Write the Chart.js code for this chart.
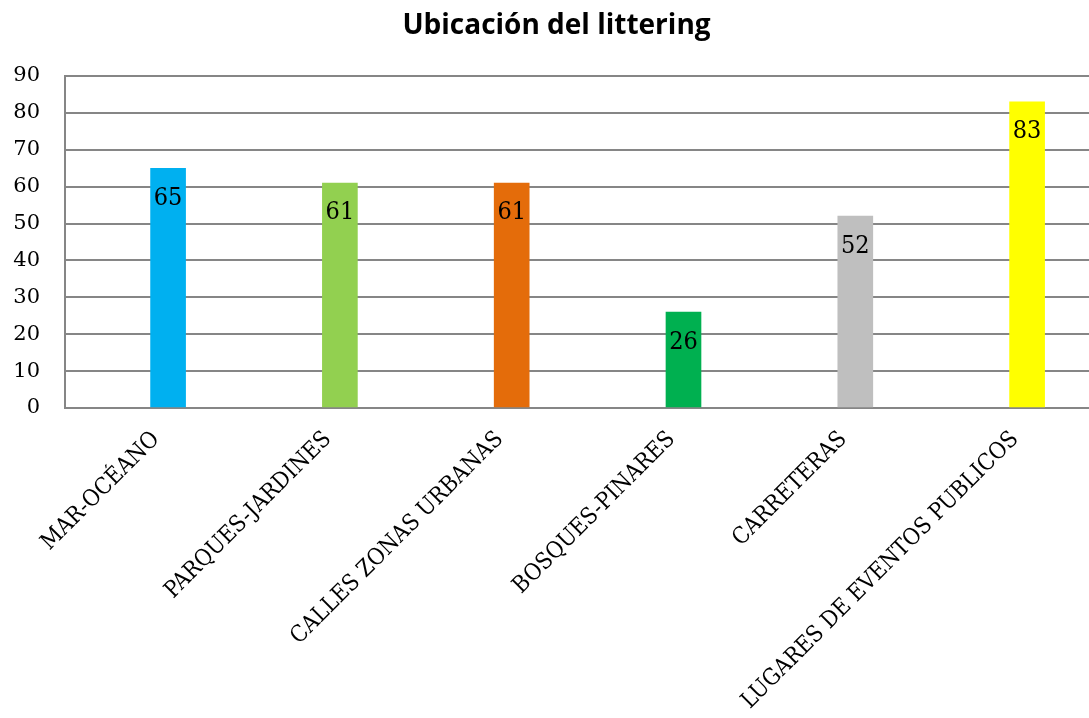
<!DOCTYPE html>
<html>
<head>
<meta charset="utf-8">
<script src="https://cdn.jsdelivr.net/npm/chart.js@4.4.1/dist/chart.umd.min.js"></script>
<style>
  html, body { margin: 0; padding: 0; background: #fff; overflow: hidden; }
  #wrap { width: 1089px; height: 718px; overflow: hidden; }
</style>
</head>
<body>
<div id="wrap"><canvas id="chart" width="1120" height="718"></canvas></div>
<script>
// chart data
const categories = ['MAR-OCÉANO', 'PARQUES-JARDINES', 'CALLES ZONAS URBANAS', 'BOSQUES-PINARES', 'CARRETERAS', 'LUGARES DE EVENTOS PUBLICOS'];
const values = [65, 61, 61, 26, 52, 83];
const barColors = ['#00B0F0', '#92D050', '#E46C0A', '#00B050', '#BFBFBF', '#FFFF00'];
const yTicks = [0, 10, 20, 30, 40, 50, 60, 70, 80, 90];

const gridGray = '#868686';

// value labels just inside the top of each bar
const valueLabels = {
    id: 'valueLabels',
    afterDatasetsDraw(chart) {
        const ctx = chart.ctx;
        const meta = chart.getDatasetMeta(0);
        ctx.save();
        ctx.font = '25px "DejaVu Serif Condensed"';
        ctx.fillStyle = '#000';
        ctx.textAlign = 'center';
        ctx.textBaseline = 'middle';
        meta.data.forEach((bar, i) => {
            ctx.fillText(String(values[i]), bar.x, bar.y + 30);
        });
        ctx.restore();
    }
};

new Chart(document.getElementById('chart'), {
    type: 'bar',
    data: {
        datasets: [{
            data: values.map((v, i) => ({ x: i, y: v })),
            backgroundColor: barColors,
            barThickness: 35,
            borderWidth: 0
        }]
    },
    options: {
        responsive: false,
        animation: false,
        layout: { padding: { left: 0, right: 7, top: 0, bottom: 0 } },
        plugins: {
            legend: { display: false },
            tooltip: { enabled: false },
            title: {
                display: true,
                text: 'Ubicación del littering',
                color: '#000',
                font: { family: '"Open Sans"', size: 28, weight: 'bold' },
                padding: { top: 9, bottom: 33.4 }
            }
        },
        scales: {
            x: {
                type: 'linear',
                offset: false,
                min: -0.6,
                max: 5.5,
                grid: { display: false },
                border: { display: true, color: gridGray, width: 2 },
                afterBuildTicks: scale => {
                    scale.ticks = categories.map((c, i) => ({ value: i }));
                },
                afterFit: scale => { scale.height = 310; },
                ticks: {
                    autoSkip: false,
                    minRotation: 45,
                    maxRotation: 45,
                    padding: 10,
                    labelOffset: -12,
                    color: '#000',
                    font: { family: '"DejaVu Serif Condensed"', size: 23 },
                    callback: v => categories[v]
                }
            },
            y: {
                min: 0,
                max: 90,
                afterBuildTicks: scale => {
                    scale.ticks = yTicks.map(v => ({ value: v }));
                },
                afterFit: scale => { scale.width = 65; },
                grid: { color: gridGray, lineWidth: 2, drawTicks: false },
                border: { display: true, color: gridGray, width: 2 },
                ticks: {
                    padding: 25,
                    color: '#000',
                    font: { family: '"DejaVu Serif"', size: 21 }
                }
            }
        }
    },
    plugins: [valueLabels]
});
</script>
</body>
</html>
